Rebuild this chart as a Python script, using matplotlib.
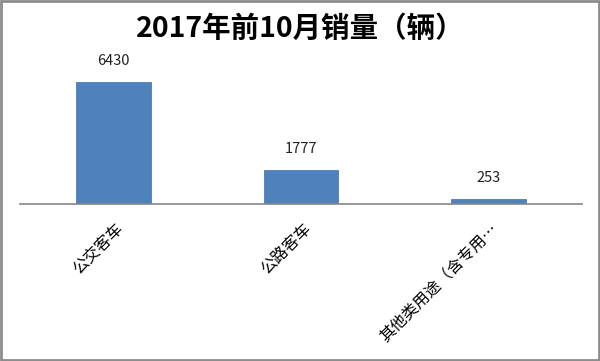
import matplotlib.pyplot as plt
import matplotlib.transforms as mtransforms
from matplotlib.patches import Rectangle

plt.rcParams['font.family'] = ['Noto Sans CJK SC', 'DejaVu Sans']

categories = ['公交客车', '公路客车', '其他类用途（含专用…']
sales = [6430, 1777, 253]
title = '2017年前10月销量（辆）'

W, H = 600, 361
fig = plt.figure(figsize=(W / 100, H / 100), dpi=100)

# axes in pixel terms: x 20..582, y bottom at 204
left, right = 20, 582
bottom, top = 204, 60
ax = fig.add_axes([left / W, 1 - bottom / H, (right - left) / W, (bottom - top) / H])

ax.bar(range(len(categories)), sales, width=0.4, color='#4F81BD', edgecolor='#4A7EBB', linewidth=0.6)
for i, v in enumerate(sales):
    ax.annotate(str(v), (i, v), xytext=(0, 10), textcoords='offset points',
                ha='center', va='bottom', fontsize=10.5, color='#222222')

ax.set_xlim(-0.5, len(categories) - 0.5)
ax.set_ylim(0, 6430 * (bottom - top) / 122)
ax.set_yticks([])
ax.set_xticks(range(len(categories)))
ax.set_xticklabels(categories, rotation=45, ha='right', va='center',
                   rotation_mode='anchor', fontsize=11.5)
ax.tick_params(axis='x', length=0, pad=16)
for s in ['top', 'right', 'left']:
    ax.spines[s].set_visible(False)
ax.spines['bottom'].set_color('#868686')
ax.spines['bottom'].set_linewidth(1.2)
# labels sit a little right of the bar centre
offset = mtransforms.ScaledTranslation(8 / 100, 0, fig.dpi_scale_trans)
for lbl in ax.get_xticklabels():
    lbl.set_transform(lbl.get_transform() + offset)

fig.text(0.5, 1 - 29 / H, title, ha='center', va='center', fontsize=20.5, fontweight='bold')

fig.patches.append(Rectangle((0.0015, 0.0025), 0.997, 0.995, transform=fig.transFigure,
                             fill=False, edgecolor='#8C8C8C', linewidth=2))

fig.savefig('out.png', dpi=100)
